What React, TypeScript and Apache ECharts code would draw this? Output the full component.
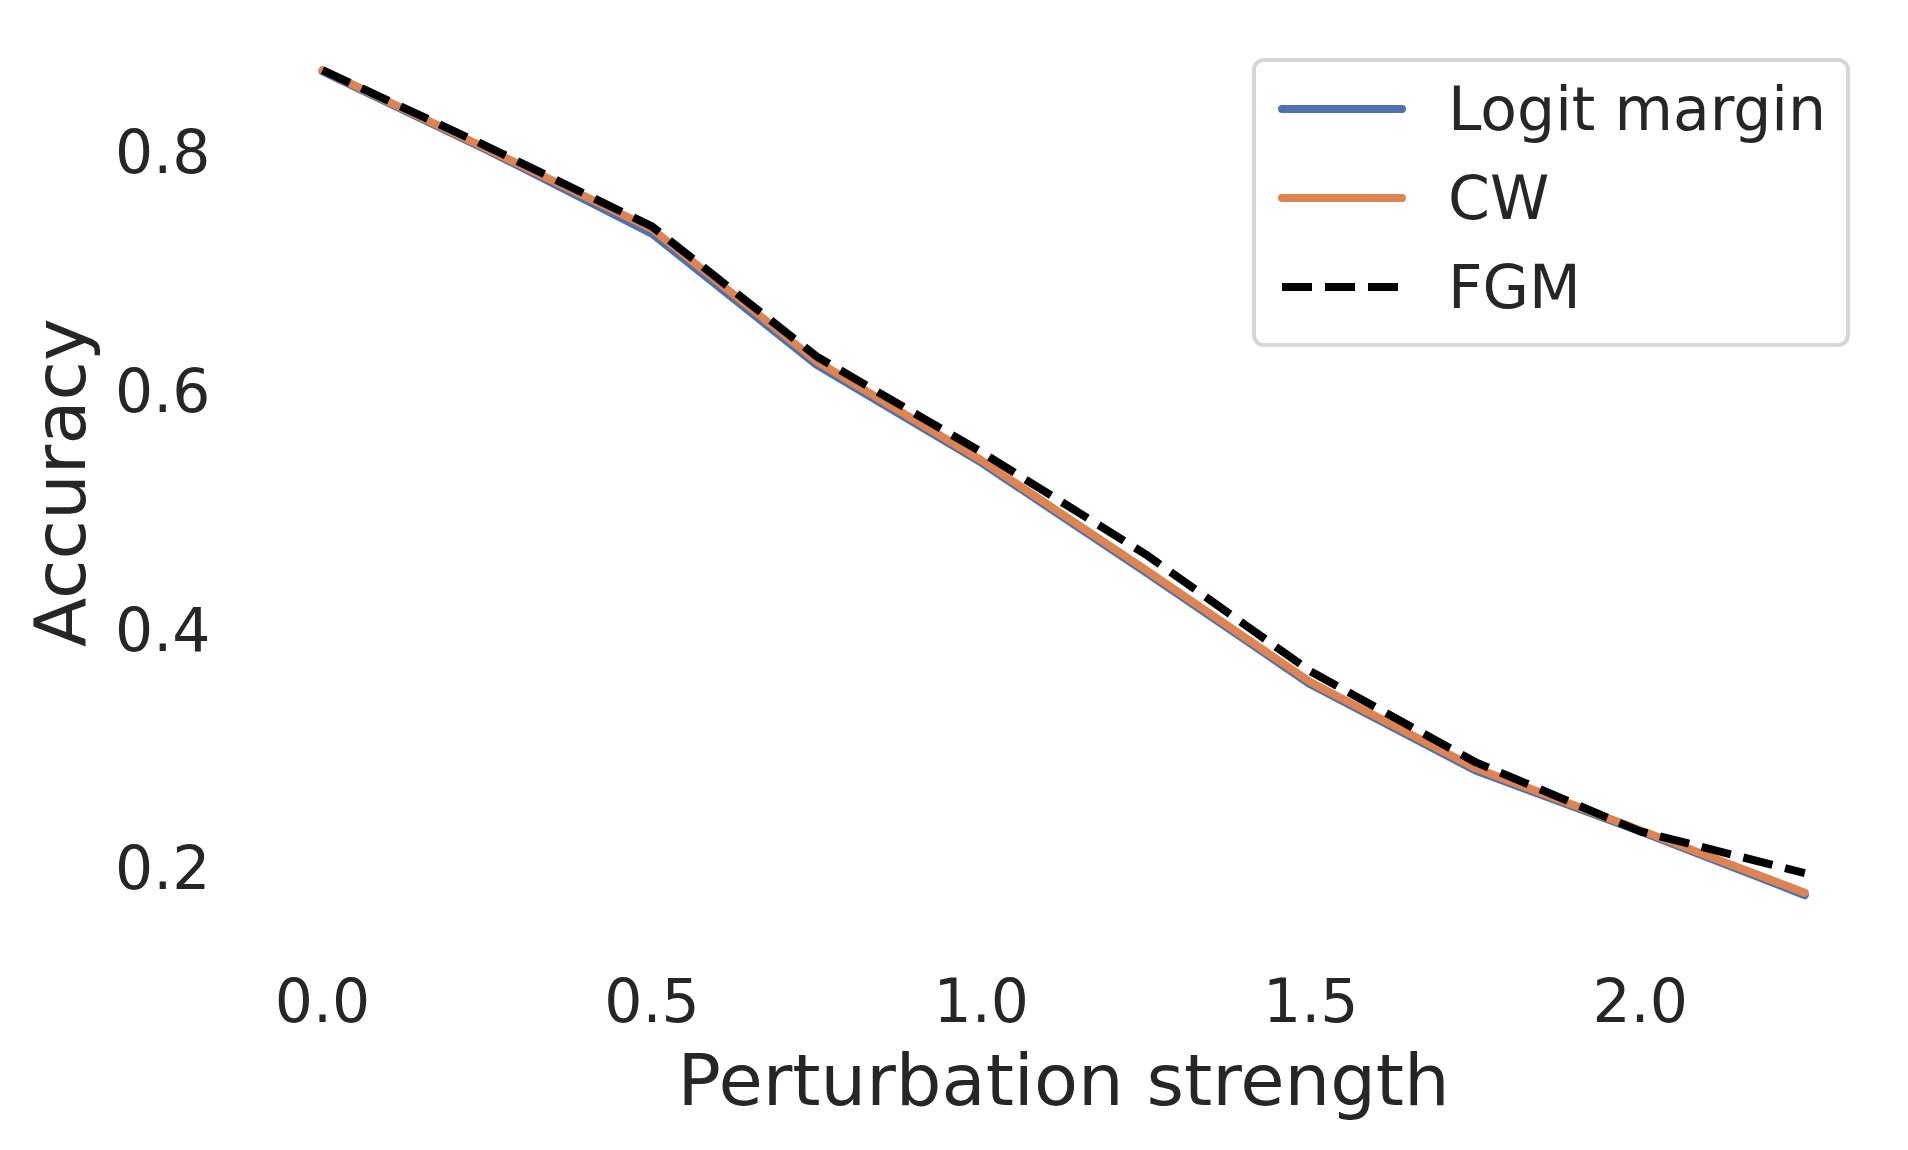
import React, { useEffect, useRef } from "react";
import * as echarts from "echarts";

const perturbation = [0, 0.25, 0.5, 0.75, 1.0, 1.25, 1.5, 1.75, 2.0, 2.25];
const logitMargin = [0.868, 0.802, 0.732, 0.622, 0.54, 0.448, 0.354, 0.282, 0.231, 0.1775];
const cwValues = [0.869, 0.803, 0.736, 0.625, 0.542, 0.45, 0.356, 0.284, 0.232, 0.1795];
const fgmValues = [0.869, 0.805, 0.738, 0.629, 0.549, 0.463, 0.365, 0.289, 0.231, 0.196];
const xTickValues = [0, 0.5, 1.0, 1.5, 2.0];
const yTickValues = [0.2, 0.4, 0.6, 0.8];
const seriesNames = ["Logit margin", "CW", "FGM"];

const TEXT = "#262626";
const FONT = "DejaVu Sans";
const DASH = [30, 13];

function pairs(xs: number[], ys: number[]) {
  return xs.map((x, i) => [x, ys[i]]);
}

function tickFormatter(ticks: number[]) {
  return (v: number) =>
    ticks.some((t) => Math.abs(t - v) < 1e-6) ? v.toFixed(1) : "";
}

export default function App() {
  const ref = useRef<HTMLDivElement>(null);
  useEffect(() => {
    document.body.style.margin = "0";
    if (!ref.current) return;
    const chart = echarts.init(ref.current, undefined, { renderer: "svg" });
    const xMin = -0.1125;
    const xMax = 2.3625;
    const all = [...logitMargin, ...cwValues, ...fgmValues];
    const lo = Math.min(...all);
    const hi = Math.max(...all);
    const pad = (hi - lo) * 0.05;
    chart.setOption({
      animation: false,
      backgroundColor: "#ffffff",
      textStyle: { fontFamily: FONT, color: TEXT },
      grid: {
        left: 248.4,
        right: 29.1,
        top: 28.9,
        bottom: 213.6,
        containLabel: false,
        outerBoundsMode: "none",
      },
      legend: {
        orient: "vertical",
        left: 1254,
        top: 60,
        padding: [19, 22, 28, 24],
        itemWidth: 120,
        itemHeight: 8,
        itemGap: 29,
        borderColor: "#d6d6d6",
        borderWidth: 4,
        borderRadius: 10,
        backgroundColor: "#ffffff",
        itemStyle: { opacity: 0, borderWidth: 0 },
        lineStyle: { width: 8, cap: "round" },
        data: [
          { name: seriesNames[0], itemStyle: { opacity: 0 }, lineStyle: { width: 8, color: "#4c72b0", cap: "round" } },
          { name: seriesNames[1], itemStyle: { opacity: 0 }, lineStyle: { width: 8, color: "#dd8452", cap: "round" } },
          { name: seriesNames[2], itemStyle: { opacity: 0 }, lineStyle: { width: 8, color: "#000000", type: DASH, cap: "butt" } },
        ],
        textStyle: {
          fontFamily: FONT,
          fontSize: 60,
          lineHeight: 60,
          color: TEXT,
          padding: [0, 0, 0, 41],
        },
      },
      xAxis: {
        type: "value",
        min: xMin,
        max: xMax,
        splitNumber: 5,
        minInterval: 0.5,
        maxInterval: 0.5,
        name: "Perturbation strength",
        nameLocation: "middle",
        nameGap: 108,
        nameTextStyle: { fontFamily: FONT, fontSize: 72, color: TEXT },
        axisLine: { show: false },
        axisTick: { show: false },
        splitLine: { show: false },
        axisLabel: {
          fontFamily: FONT,
          fontSize: 60,
          color: TEXT,
          margin: 35,
          showMinLabel: false,
          showMaxLabel: false,
          formatter: tickFormatter(xTickValues),
        },
      },
      yAxis: {
        type: "value",
        min: lo - pad,
        max: hi + pad,
        splitNumber: 4,
        minInterval: 0.2,
        maxInterval: 0.2,
        name: "Accuracy",
        nameLocation: "middle",
        nameGap: 152,
        nameTextStyle: { fontFamily: FONT, fontSize: 72, color: TEXT },
        axisLine: { show: false },
        axisTick: { show: false },
        splitLine: { show: false },
        axisLabel: {
          fontFamily: FONT,
          fontSize: 60,
          color: TEXT,
          margin: 38,
          showMinLabel: false,
          showMaxLabel: false,
          formatter: tickFormatter(yTickValues),
        },
      },
      series: [
        {
          name: seriesNames[0],
          type: "line",
          data: pairs(perturbation, logitMargin),
          symbol: "none",
          color: "#4c72b0",
          lineStyle: { width: 8, color: "#4c72b0", cap: "round", join: "round" },
        },
        {
          name: seriesNames[1],
          type: "line",
          data: pairs(perturbation, cwValues),
          symbol: "none",
          color: "#dd8452",
          lineStyle: { width: 8, color: "#dd8452", cap: "round", join: "round" },
        },
        {
          name: seriesNames[2],
          type: "line",
          data: pairs(perturbation, fgmValues),
          symbol: "none",
          color: "#000000",
          lineStyle: {
            width: 8,
            color: "#000000",
            type: DASH,
            cap: "butt",
            join: "round",
          },
        },
      ],
    });
    return () => chart.dispose();
  }, []);
  return <div ref={ref} style={{ width: 1908, height: 1150 }} />;
}
